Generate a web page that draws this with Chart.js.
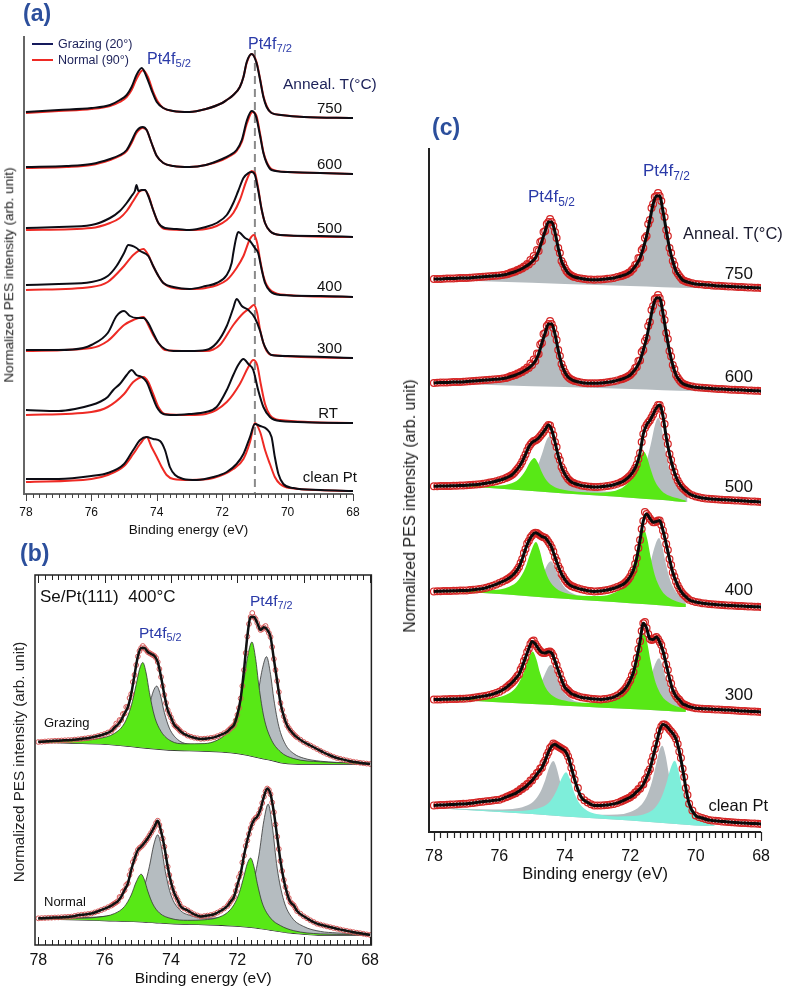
<!DOCTYPE html>
<html>
<head>
<meta charset="utf-8">
<script src="https://cdn.jsdelivr.net/npm/chart.js@4.4.1/dist/chart.umd.min.js"></script>
<style>
body { margin: 0; background: #fff; }
#fig { position: relative; width: 785px; height: 992px; overflow: hidden; font-family: 'Liberation Sans', Arial, sans-serif; }
canvas { position: absolute; }
.t { position: absolute; white-space: nowrap; line-height: 1; color: #111; }
.t sub { font-size: 70%; vertical-align: -0.3em; line-height: 0; }
.panel { font-weight: bold; color: #2c4f9c; font-size: 23px; }
.pt { color: #2a3aa8; }
.navy { color: #1c2159; }
.r { text-align: right; }
.yt { position: absolute; white-space: nowrap; line-height: 1; color: #222; transform: translate(-50%, -50%) rotate(-90deg); }
.key { position: absolute; height: 2px; }
</style>
</head>
<body>
<div id="fig">
  <canvas id="chartA" width="385" height="545" style="left:0;top:0"></canvas>
  <canvas id="chartB" width="385" height="427" style="left:0;top:565px"></canvas>
  <canvas id="chartC" width="400" height="792" style="left:385px;top:100px"></canvas>

  <!-- panel (a) -->
  <div class="t panel" style="left:23px;top:2px">(a)</div>
  <div class="key" style="left:32px;top:43px;width:21px;background:#151a5c"></div>
  <div class="key" style="left:32px;top:59px;width:21px;background:#ee2a24"></div>
  <div class="t navy" style="left:58px;top:38px;font-size:12.5px">Grazing (20°)</div>
  <div class="t navy" style="left:58px;top:54px;font-size:12.5px">Normal (90°)</div>
  <div class="t pt" style="left:147px;top:51px;font-size:16px">Pt4f<sub>5/2</sub></div>
  <div class="t pt" style="left:248px;top:36px;font-size:16px">Pt4f<sub>7/2</sub></div>
  <div class="t navy" style="left:283px;top:76px;font-size:15.5px">Anneal. T(°C)</div>
  <div class="t r" style="right:443px;top:100px;font-size:15px">750</div>
  <div class="t r" style="right:443px;top:156px;font-size:15px">600</div>
  <div class="t r" style="right:443px;top:220px;font-size:15px">500</div>
  <div class="t r" style="right:443px;top:278px;font-size:15px">400</div>
  <div class="t r" style="right:443px;top:340px;font-size:15px">300</div>
  <div class="t r" style="right:447px;top:405px;font-size:15px">RT</div>
  <div class="t r" style="right:428px;top:469px;font-size:15px">clean Pt</div>
  <div class="yt" style="left:9px;top:275px;font-size:13.6px">Normalized PES intensity (arb. unit)</div>

  <!-- panel (b) -->
  <div class="t panel" style="left:20px;top:542px">(b)</div>
  <div class="t" style="left:40px;top:588px;font-size:17px">Se/Pt(111)&nbsp;&nbsp;400°C</div>
  <div class="t pt" style="left:250px;top:593px;font-size:15.5px">Pt4f<sub>7/2</sub></div>
  <div class="t pt" style="left:139px;top:625px;font-size:15.5px">Pt4f<sub>5/2</sub></div>
  <div class="t" style="left:44px;top:716px;font-size:13px">Grazing</div>
  <div class="t" style="left:44px;top:895px;font-size:13px">Normal</div>
  <div class="yt" style="left:19px;top:762px;font-size:15.2px">Normalized PES intensity (arb. unit)</div>

  <!-- panel (c) -->
  <div class="t panel" style="left:432px;top:116px">(c)</div>
  <div class="t pt" style="left:643px;top:162px;font-size:17px">Pt4f<sub>7/2</sub></div>
  <div class="t pt" style="left:528px;top:188px;font-size:17px">Pt4f<sub>5/2</sub></div>
  <div class="t" style="left:683px;top:225px;font-size:16.5px;color:#1a1a2e">Anneal. T(°C)</div>
  <div class="t r" style="right:32px;top:265px;font-size:17px">750</div>
  <div class="t r" style="right:32px;top:368px;font-size:17px">600</div>
  <div class="t r" style="right:32px;top:478px;font-size:17px">500</div>
  <div class="t r" style="right:32px;top:581px;font-size:17px">400</div>
  <div class="t r" style="right:32px;top:686px;font-size:17px">300</div>
  <div class="t r" style="right:17px;top:797px;font-size:16.5px">clean Pt</div>
  <div class="yt" style="left:410px;top:506px;font-size:16px">Normalized PES intensity (arb. unit)</div>
</div>

<script>
Chart.defaults.font.family = "'Liberation Sans', Arial, sans-serif";
Chart.defaults.color = '#111';

// binding energy ticks (eV)
const tickE = [78, 76, 74, 72, 70, 68];

// energy grids (eV) of the measured points in (b) and (c)
const gridE = [78, 77.8, 77.6, 77.4, 77.2, 77, 76.8, 76.6, 76.4, 76.2, 76, 75.8,
  75.7, 75.6, 75.5, 75.4, 75.3, 75.2, 75.1, 75, 74.9, 74.8, 74.7, 74.6, 74.5, 74.4, 74.3, 74.2, 74.1, 74, 73.9, 73.8, 73.7,
  73.5, 73.3, 73.1, 72.9, 72.7, 72.5, 72.3,
  72.2, 72.1, 72, 71.9, 71.8, 71.7, 71.6, 71.5, 71.4, 71.3, 71.2, 71.1, 71, 70.9, 70.8, 70.7, 70.6, 70.5, 70.4, 70.3, 70.2,
  70, 69.8, 69.6, 69.4, 69.2, 69, 68.8, 68.6, 68.4, 68.2, 68];
const gridMid = [77.9, 77.7, 77.5, 77.3, 77.1, 76.9, 76.7, 76.5, 76.3, 76.1, 75.9, 75.75,
  75.65, 75.55, 75.45, 75.35, 75.25, 75.15, 75.05, 74.95, 74.85, 74.75, 74.65, 74.55, 74.45, 74.35, 74.25, 74.15, 74.05, 73.95, 73.85, 73.75, 73.6,
  73.4, 73.2, 73, 72.8, 72.6, 72.4, 72.25,
  72.15, 72.05, 71.95, 71.85, 71.75, 71.65, 71.55, 71.45, 71.35, 71.25, 71.15, 71.05, 70.95, 70.85, 70.75, 70.65, 70.55, 70.45, 70.35, 70.25, 70.1,
  69.9, 69.7, 69.5, 69.3, 69.1, 68.9, 68.7, 68.5, 68.3, 68.1];

// ---------- (a) grazing / normal emission, [eV, intensity] ----------
const tempsA = ['750', '600', '500', '400', '300', 'RT', 'clean Pt'];
const offA = [376, 320, 257, 197, 136, 71, 3];

const grazA750 = [[78,6],[77,8],[76,10],[75.43,13],[75.13,18],[74.92,23],[74.77,31],[74.62,43],[74.46,50],[74.31,41],[74.16,28],[74,16],[73.8,10],[73.5,7],[73,6],[72.5,9],[72,15],[71.86,18],[71.66,23],[71.46,31],[71.35,41],[71.25,56],[71.1,64],[70.95,55],[70.84,38],[70.74,21],[70.64,11],[70.49,5],[70.2,3],[69.5,1],[68,0]];
const normA750 = [[78,5],[77,7],[76,9],[75.43,12],[75.13,16],[74.92,21],[74.77,28],[74.62,39],[74.42,48],[74.27,41],[74.12,27],[73.96,16],[73.8,10],[73.5,7],[73,6],[72.5,9],[72,15],[71.86,18],[71.66,23],[71.46,31],[71.35,41],[71.25,55],[71.1,64],[70.95,56],[70.84,39],[70.74,22],[70.64,12],[70.49,5],[70.2,3],[69.5,1],[68,0]];
const grazA600 = [[78,7],[76.76,8],[76,10],[75.43,15],[75.13,19],[74.92,24],[74.77,33],[74.62,43],[74.43,47],[74.31,44],[74.16,31],[74,18],[73.8,11],[73.49,8],[73,7],[72.5,9],[72,15],[71.76,19],[71.56,24],[71.4,34],[71.25,53],[71.1,63],[70.97,58],[70.84,38],[70.74,21],[70.64,11],[70.49,4],[70,2],[69,1],[68,0]];
const normA600 = [[78,6],[76.76,7],[76,9],[75.43,14],[75.13,18],[74.92,23],[74.77,31],[74.62,41],[74.43,46],[74.31,44],[74.16,31],[74,18],[73.8,11],[73.49,8],[73,7],[72.5,9],[72,14],[71.76,18],[71.56,23],[71.4,32],[71.25,50],[71.07,62],[70.95,58],[70.84,40],[70.74,22],[70.64,12],[70.49,5],[70,2],[69,1],[68,0]];
const grazA500 = [[78,9],[77,10],[76,12],[75.43,19],[75.13,26],[74.92,34],[74.77,41],[74.67,46],[74.62,52],[74.56,46],[74.46,47],[74.36,47],[74.26,41],[74.11,27],[73.95,14],[73.75,9],[73.39,8],[73,7],[72.5,10],[72.17,14],[71.86,22],[71.66,34],[71.51,46],[71.35,59],[71.2,64],[71.1,65],[71,62],[70.9,47],[70.79,27],[70.69,14],[70.54,6],[70.23,2],[69,1],[68,0]];
const normA500 = [[78,7],[76,9],[75.43,14],[75.13,19],[74.92,26],[74.72,36],[74.51,46],[74.39,47],[74.26,42],[74.11,27],[73.95,14],[73.75,8],[73,7],[72.5,8],[72.17,11],[71.86,17],[71.66,24],[71.46,37],[71.25,57],[71.1,66],[71,64],[70.9,49],[70.79,27],[70.69,14],[70.54,6],[70.23,2],[68,0]];
const grazA400 = [[78,12],[77,13],[76,15],[75.5,21],[75.23,31],[75,44],[74.87,52],[74.62,49],[74.51,46],[74.26,41],[74.11,31],[73.95,21],[73.8,14],[73.49,10],[73,8],[72.5,11],[72.17,14],[71.86,22],[71.71,34],[71.66,44],[71.58,58],[71.51,65],[71.3,59],[71.15,56],[71,49],[70.9,44],[70.79,27],[70.69,14],[70.54,6],[70.23,2],[69,1],[68,0]];
const normA400 = [[78,7],[76,10],[75.5,15],[75,31],[74.72,42],[74.41,48],[74.26,42],[74.11,31],[73.95,21],[73.8,14],[73.49,9],[73,8],[72.5,9],[71.86,17],[71.56,29],[71.35,41],[71.15,58],[71.03,62],[70.93,54],[70.84,37],[70.74,21],[70.64,12],[70.49,6],[70.03,2],[68,0]];
const grazA300 = [[78,8],[77,8],[76.25,10],[76,13],[75.5,25],[75.23,42],[75,47],[74.82,42],[74.62,40],[74.41,40],[74.26,35],[74.11,25],[73.95,15],[73.75,9],[73.49,7],[73,7],[72.5,8],[72.17,15],[71.86,32],[71.66,50],[71.56,59],[71.4,52],[71.2,48],[71,40],[70.84,27],[70.74,15],[70.64,8],[70.49,3],[70,2],[68,0]];
const normA300 = [[78,7],[76,10],[75.5,17],[75,33],[74.72,38],[74.41,41],[74.26,33],[74.11,23],[73.95,15],[73.75,8],[73,7],[72.5,7],[72.07,13],[71.66,33],[71.35,45],[71.15,50],[71.03,53],[70.93,45],[70.84,28],[70.74,15],[70.64,7],[70.49,3],[68,0]];
const grazART = [[78,13],[77,12],[76.5,14],[76,18],[75.75,21],[75.5,26],[75.33,33],[75.13,39],[74.92,48],[74.77,53],[74.62,48],[74.46,46],[74.31,41],[74.16,29],[74,16],[73.8,9],[73.49,8],[73,9],[72.5,11],[72.17,16],[71.86,33],[71.66,48],[71.51,58],[71.35,64],[71.2,59],[71.05,53],[70.9,33],[70.74,16],[70.54,6],[70.23,2],[68,0]];
const normART = [[78,8],[76,11],[75.5,16],[75,29],[74.72,41],[74.41,46],[74.26,41],[74.11,29],[73.95,16],[73.75,9],[73,8],[72.5,9],[71.86,21],[71.46,39],[71.2,56],[71.05,63],[70.93,58],[70.82,39],[70.69,19],[70.54,8],[70.23,3],[68,0]];
const grazAclean = [[78,12],[77,12],[76,15],[75.5,18],[75,27],[74.72,41],[74.51,51],[74.31,54],[74.11,52],[73.9,50],[73.75,41],[73.6,24],[73.44,16],[73.19,12],[72.78,11],[72.27,14],[71.86,19],[71.56,27],[71.35,37],[71.15,54],[71,67],[70.84,65],[70.64,62],[70.49,54],[70.39,34],[70.28,17],[70.13,7],[69.82,3],[69,1],[68,0]];
const normAclean = [[78,9],[76,12],[75.5,16],[75,25],[74.72,37],[74.51,47],[74.31,54],[74.16,44],[74,34],[73.85,24],[73.7,16],[73.49,12],[73,11],[72.27,13],[71.66,22],[71.35,32],[71.15,49],[71,68],[70.84,59],[70.69,41],[70.54,27],[70.39,14],[70.23,7],[69.93,3],[68,0]];

// ---------- (b) Se/Pt(111) 400°C ----------
const offB = [181, 10]; // grazing, normal
const dataBGraz = [22,22.5,23,23.3,23.7,24,24.7,25.5,26.5,28,30,33,
  36.5,39.5,44,50.6,57,70,89,107.5,116,116,112,110,108,102,87,69,54,46.5,39,35.8,32.3,
  28.4,26.3,25.1,25.6,26.6,29.1,32.6,
  35.8,39,49,65.5,94,127.5,147,147,141,134,136.7,134.3,127,105,83,61,47.7,38.5,33.5,29.7,26.6,
  22,18.5,15,11.5,8.5,6,4.4,2.8,1.7,0.8,0];
const dataBNorm = [16.7,17,17.3,17.6,18,18.4,19.8,20.6,21.5,23.7,26.3,29.4,
  31.6,33.9,38.3,45,51.7,65,76.1,85,88.3,92.2,96.7,102.2,108.1,114.3,103.6,88.3,68.3,52.8,41.7,35,28.3,
  24.7,20.7,18.5,19.4,20.8,24.2,29,
  33.7,38.3,50,61.7,79.4,94.5,107,115,118.3,126,138.3,146.5,140.8,122.8,98.3,74,55,41.7,32.8,29.7,23.9,
  18.7,14.7,11.3,9.5,7.8,6.3,4.7,3.5,2.3,1.2,0];
const midBGraz = [22.2,22.8,23.2,23.5,23.9,24.4,25.1,26,27.2,29,31.5,35,
  40.5,44,50,57,66,82,99,113,118,114,111,109,106,95,78,61,50,42.5,37.3,34,30.5,
  27.3,25.7,25.3,26.1,27.8,30.8,34.2,
  37.3,43.5,56,78,111,140,151,145,137,135,138,131,117,94,72,54,43,36,31.5,28,24.3,
  20.2,16.7,13.2,10,7.2,5.2,3.6,2.2,1.2,0.4];
const midBNorm = [16.9,17.2,17.5,17.8,18.2,19.1,20.2,21,22.6,25,27.8,30.5,
  32.7,38,43.5,50,60,73,81,87,90,94.5,99.5,105,112,110,96.5,78.5,60,47,38,31.5,26.5,
  22.6,19.5,18.9,20,22.4,26.5,31.3,
  36,44,58,72.5,89,101,111.5,117,121.5,132,143.5,145,132.5,110.5,86,64,48,37,31.2,26.8,21.3,
  16.7,13,10.4,8.6,7,5.5,4.1,2.9,1.8,0.6];
const bgBGraz = [[78,22],[77,21],[76,20],[75.3,18],[74.9,16.5],[74.4,15],[74,14],[73,13],[72.2,11.5],[71.7,9],[71.3,6],[71,4],[70.6,1],[70,0],[68,0]];
const bgBNorm = [[78,16],[77,15.5],[76,14.5],[75,13.5],[74.5,12.5],[74,11.5],[73,10.5],[72,9],[71.5,7.5],[71,5],[70.5,2.5],[70,1],[69.5,0],[68,0]];
const greenBGraz = [[78,23],[77,23.3],[76.2,25.4],[75.7,30.7],[75.4,41],[75.2,58],[75.05,79.4],[74.95,94.7],[74.85,101.5],[74.75,91],[74.65,71.3],[74.5,48],[74.3,32.6],[74,23],[73.6,20.2],[73,20.4],[72.6,23.9],[72.3,31.7],[72.1,42.9],[71.95,58.5],[71.8,84.5],[71.7,105.6],[71.56,122],[71.45,105.4],[71.35,77.9],[71.2,46.8],[71,26],[70.7,12.2],[70.3,5.4],[69.5,2.2],[68.5,1],[68,0.7]];
const grayBGraz = [[78,22.8],[77,22.3],[76,23],[75.3,26.2],[75,33],[74.8,44.4],[74.65,59.4],[74.53,73.1],[74.43,77.9],[74.33,70.3],[74.2,51.4],[74.05,35.9],[73.8,24.5],[73.4,19.4],[72.8,18.2],[72.3,20.3],[72,24.3],[71.8,29.9],[71.6,41.6],[71.4,66.8],[71.25,94.6],[71.12,107.3],[71,89.7],[70.9,64.7],[70.75,37.6],[70.55,19.6],[70.3,10.4],[70,5.8],[69.5,2.8],[69,1.6],[68,0.7]];
const greenBNorm = [[78,16.7],[77,16.7],[76.2,17.8],[75.7,21.5],[75.4,28.6],[75.2,40],[75.05,53],[74.9,60.8],[74.8,55],[74.7,43.9],[74.55,31.1],[74.35,22.1],[74,16.5],[73.5,14.7],[73,15.2],[72.6,17.3],[72.3,22.5],[72.1,30.4],[71.95,41.4],[71.8,58.9],[71.7,71.4],[71.6,76.9],[71.5,68.4],[71.4,51.7],[71.25,32],[71,16.9],[70.7,9.4],[70.3,4.3],[69.5,1.1],[68.5,0.5],[68,0.4]];
const grayBNorm = [[78,17],[77,17.3],[76,18.7],[75.3,24.8],[75,34.4],[74.8,49.1],[74.65,68.8],[74.52,90.2],[74.4,100.2],[74.3,89.6],[74.17,63.3],[74,39.9],[73.75,25.6],[73.4,19.3],[72.9,16.9],[72.4,18.3],[72,24],[71.75,32.9],[71.55,48.3],[71.35,79.9],[71.2,114.5],[71.07,130.9],[70.95,109.6],[70.8,66.9],[70.6,34.4],[70.35,17.2],[70,8.5],[69.5,3.6],[69,2.1],[68,0.9]];

// ---------- (c) anneal series ----------
const offC = [544, 441, 330, 225, 120, 8]; // 750, 600, 500, 400, 300, clean Pt
const dataC750 = [9,9,9.5,9.5,10,10,10.5,11,11.5,12,12.5,13.5,
  14.5,15.5,16.5,18,19.5,21.5,23.5,26.5,30,37,47,57,66,66,56,40,27,20,15,12.5,11,
  9.5,8.5,8.3,8.5,9.2,10,11.8,
  12.8,14,16,19.5,24,30,40,52,68,84,92,92,77,58,40,27,17,12,8,6.5,5.5,
  4,3.4,2.9,2.3,2,1.6,1.2,0.9,0.6,0.3,0];
const dataC600 = [8,8.5,8.5,9,9,9.5,10,10.5,11,11.5,12,13,
  14,15,16,17.5,19,21,23,26,30,37,48,58,67,67,57,41,27,19,14,11.5,10,
  8.5,7.8,7.7,8,8.7,9.7,11.5,
  12.5,14,16,19.5,24,30.5,41,53,69,85,93,93,78,58,40,26,16,11,7.5,6,5,
  3.8,3.2,2.7,2.2,1.9,1.5,1.2,0.9,0.6,0.3,0];
const dataC500 = [15.7,15.9,16,16.2,16.4,16.7,17.2,17.8,18.8,20,21.7,24,
  25.5,27.5,31,35,40.5,47.5,55,59.5,61.5,64,68,72.5,77,72,60,46,35,28,23,20,18.5,
  16.5,15.5,15,15.3,16,17.3,19.5,
  21,23.5,26.5,31,37.5,49,68,77,81.5,87.5,94,97,86,65,48,35,25,18.5,14,11,8.3,
  5.5,4,3.2,2.7,2.3,2,1.6,1.2,0.8,0.4,0];
const dataC400 = [15.6,15.8,16,16.2,16.4,16.6,17.2,18,19.3,21.3,24,27,
  29,31.5,35,40,48,58,66,71.5,74.3,72.7,70.4,69.3,65,59.5,50,41,33,27.7,23.5,21,19.8,
  17.7,16.3,15.6,16,17,18.7,21.3,
  23,26,30.5,37,49,67,86,93,88.6,84.8,85.5,86.4,76.6,63,48,34.6,25.6,18.5,13.5,10.3,7.2,
  5,3.8,3,2.4,2,1.6,1.2,0.9,0.6,0.3,0];
const dataC300 = [12.4,12.6,12.8,13,13.2,13.4,14.3,15.3,16.3,17.9,20.3,24.2,
  27,29.7,33.6,37.6,45.5,54.4,63.2,70.5,68,63,59.5,59,60.3,59,51,41.4,32.5,24.7,21.4,18.3,17,
  14.8,13.7,12.9,12.5,13.3,14.9,18.6,
  21.6,25.8,31.7,40,54,70.7,88.8,84,73,72.5,75,70,61,47.6,33.7,22,15.7,12.2,8.2,6.8,5.3,
  3.8,3.3,3,2.6,2.2,1.9,1.5,1.1,0.7,0.4,0];
const dataCclean = [18.6,18.9,19.3,19.6,20,20.3,21.1,21.9,22.7,23.5,24.3,26.8,
  28.1,29.4,30.7,32.8,35,37.2,40.3,43.6,47.7,52,56.3,63.4,71.8,77.8,79.4,77.5,75.5,73.4,67.6,56.3,44.3,
  27,21.5,18.6,18.6,19,20.1,22.2,
  23.7,25.2,26.7,29,32.3,35.3,39.6,46.3,54.8,67.5,80.3,93.6,99.5,98.2,94.3,90.6,85,72.6,55.3,36,20.2,
  8.5,6,4,3.2,2.6,2,1.5,1.1,0.7,0.4,0];

// in-between measured points (on gridMid)
const midC750 = [9,9.3,9.5,9.8,10,10.3,10.8,11.3,11.8,12.3,13,14,
  15.5,16.5,18,19.5,21.5,24,28,32,38,46,56,64,69,62,50,35,24,17,13.5,11.5,10,
  9,8.4,8.4,8.8,9.6,10.9,12.3,
  13.5,15.2,18,23,30,38,50,64,80,91,95,87,71,52,35,23,14.5,10,7.2,6,4.7,
  3.7,3.1,2.6,2.2,1.8,1.4,1,0.7,0.4,0.2];
const midC600 = [8.3,8.5,8.8,9,9.3,9.8,10.3,10.8,11.3,11.8,12.5,13.5,
  15,16,17.5,19,21,23.5,27.5,31.5,37.5,46.5,57,65,70,63,51,35,23,16,12.5,10.7,9.2,
  8.1,7.7,7.8,8.3,9.2,10.6,12,
  13.2,15,17.8,23,30,39,50,65,81,92,96,88,71,52,34.5,22,13.5,9,6.7,5.5,4.4,
  3.5,3,2.5,2,1.7,1.3,1,0.7,0.4,0.2];
const midC500 = [15.8,16,16.1,16.3,16.5,16.9,17.5,18.3,19.4,20.8,22.8,24.8,
  26.5,29,33,37.5,44,51.5,57.5,61,62.5,66,70,75,76.5,67,55,42,32,25.5,21.5,19.2,17.5,
  16,15.2,15.1,15.6,16.6,18.3,20.2,
  22.2,25,28.5,34,43,60,74,79.5,84.5,91,97,93,78,58,42,30,21.5,16,12.5,9.6,6.8,
  4.7,3.6,2.9,2.5,2.1,1.8,1.4,1,0.6,0.2];
const midC400 = [15.7,15.9,16.1,16.3,16.5,16.9,17.6,18.6,20.3,22.6,25.5,28,
  30.2,33.2,37.5,44,54,63.5,69.5,73.5,74,71.5,69.8,67.5,62.5,55.5,46.5,38,30.5,25.5,22.2,20.4,18.7,
  17,15.9,15.7,16.5,17.8,20,22.1,
  24.4,28,34,43,59,78,95,91,86.5,84.8,86.5,82,71,57,42,30.5,21.8,15.8,11.8,8.7,6,
  4.4,3.4,2.7,2.2,1.8,1.4,1,0.7,0.4,0.2];
const midC300 = [12.5,12.7,12.9,13.1,13.3,13.8,14.8,15.8,17.1,19.1,22.2,25.6,
  28.3,31.6,36,42.5,51,60,68,71.5,65.5,61,59,59.8,60.5,56,47,38,29,23,19.8,17.6,15.8,
  14.2,13.3,12.7,12.9,14,16.5,20,
  23.5,29,36.5,48,63,81,90,78,72,74,73,67,56,42,28.5,18.5,13.8,10,7.5,6,4.5,
  3.5,3.1,2.8,2.4,2,1.7,1.3,0.9,0.5,0.2];
const midCclean = [18.8,19.1,19.5,19.8,20.2,20.7,21.5,22.3,23.1,23.9,25.5,27.5,
  29,30.5,32.5,35,37.5,40,43.5,47,51,55.5,61,68.5,76,80.5,78.5,76.5,74.5,71,63,51,36,
  23.8,19.8,18.5,18.8,19.5,21.1,22.9,
  24.4,25.9,28.5,31.5,35,39,44.5,52,62.5,75,88,97.5,99.5,96.4,92.5,88,80,66,47,29,13.5,
  7.1,4.9,3.6,2.9,2.3,1.8,1.3,0.9,0.5,0.2];

const bgC750 = [[78,8.3],[76,6.2],[74,4.1],[72,2],[70,0],[68,0]];
const bgC600 = [[78,7.7],[76,5.8],[74,3.9],[72,1.9],[70,0],[68,0]];
const bgC500 = [[78,16],[77,15.5],[76.5,14.5],[75,11],[74,8.5],[73,6.5],[72,4.3],[71,1.9],[70.3,0],[68,0]];
const bgC400 = [[78,15],[77,14.6],[76.5,14],[75,10.6],[74,8.3],[73,6],[72,3.8],[71,1.6],[70.3,0],[68,0]];
const bgC300 = [[78,12],[77,11.4],[76.2,10],[75,8],[74,6.3],[73,4.6],[72,2.9],[71,1.2],[70.3,0],[68,0]];
const bgCclean = [[78,16],[77,14],[76,12],[75,10],[74,7.5],[73,5.5],[72,3.5],[71,1],[70,-1.5],[69.4,-2],[68,-2]];

const grayC500 = [[78,16.7],[77,16.4],[76.2,16],[75.7,16.7],[75.3,19.5],[75.05,25.1],[74.85,34.8],[74.7,47.7],[74.58,60.1],[74.47,65.4],[74.37,58.4],[74.25,43],[74.1,29],[73.85,18.1],[73.5,13.2],[73,11],[72.6,10.5],[72.2,12.5],[71.9,17.3],[71.7,24.9],[71.5,40.8],[71.35,61],[71.24,77.6],[71.14,84.3],[71.04,74.1],[70.94,54.5],[70.8,32.8],[70.6,17.1],[70.4,9],[70.25,5]];
const greenC500 = [[78,16.5],[77,16.2],[76.2,16],[75.7,17.9],[75.4,23.1],[75.2,31.5],[75.05,40.4],[74.93,44.1],[74.82,39.2],[74.7,29.7],[74.55,21.2],[74.3,14.8],[74,12],[73.5,10],[73,9.3],[72.6,10.2],[72.3,13.2],[72.1,18],[71.95,25],[71.82,34.6],[71.7,45],[71.58,50.2],[71.48,44.3],[71.38,33.2],[71.25,21.3],[71.05,11.6],[70.8,6.2],[70.5,3.3],[70.3,1.5]];
const grayC400 = [[78,15.4],[77,15.4],[76.2,15],[75.6,14.9],[75.2,17.2],[74.95,21],[74.75,28.4],[74.6,37.8],[74.5,43.9],[74.42,45.7],[74.32,41.1],[74.2,30.9],[74.05,21.6],[73.8,14.3],[73.4,10.7],[72.9,9.1],[72.4,9.5],[72,12.4],[71.75,18.1],[71.55,27.9],[71.4,41.7],[71.25,60.4],[71.12,69.1],[71.02,60.5],[70.92,44.7],[70.78,26.9],[70.6,14.9],[70.3,6.6]];
const greenC400 = [[78,15.8],[77,16.2],[76.2,17],[75.7,20.3],[75.4,27.6],[75.2,39.5],[75.05,54],[74.88,64.9],[74.77,57.1],[74.65,41.8],[74.5,28.3],[74.25,18.2],[74,14.2],[73.5,11.2],[73,10.9],[72.6,12.8],[72.3,17.9],[72.1,25.6],[71.95,36.9],[71.82,52.2],[71.7,68.7],[71.58,77.2],[71.48,68],[71.38,50.6],[71.25,32.1],[71.05,17.1],[70.8,9],[70.5,4.8],[70.3,3]];
const grayC300 = [[78,12.5],[77,12.3],[76.2,11.8],[75.6,12.1],[75.2,15.1],[74.95,19.4],[74.75,27.9],[74.6,38.4],[74.5,45.2],[74.42,47.3],[74.32,42.3],[74.2,31],[74.05,20.8],[73.8,12.8],[73.4,9],[72.9,7.2],[72.4,7.4],[72,9.7],[71.75,14],[71.55,21.7],[71.4,32.4],[71.25,46.9],[71.12,53.7],[71.02,46.9],[70.92,34.6],[70.78,20.9],[70.6,11.5],[70.3,5.1]];
const greenC300 = [[78,12.8],[77,13.1],[76.2,13.9],[75.7,18.7],[75.45,26.5],[75.25,40.1],[75.1,54.5],[74.98,60.5],[74.87,53.1],[74.75,38.4],[74.6,25.3],[74.35,15.7],[74,11.4],[73.5,9.2],[73,9.5],[72.6,11.6],[72.3,17.1],[72.1,25.3],[71.95,36.9],[71.82,52.7],[71.7,69.6],[71.58,78.5],[71.48,69.1],[71.38,51.3],[71.25,32.3],[71.05,17],[70.8,9],[70.5,4.8],[70.3,3]];
const grayCclean = [[78,16.5],[77,15.1],[76.2,14.6],[75.6,15.1],[75.2,17.9],[74.95,22.8],[74.75,31.7],[74.6,43.8],[74.47,56.9],[74.35,62.9],[74.25,56.1],[74.12,39.6],[73.97,26.1],[73.75,16.7],[73.4,11.7],[72.9,9.2],[72.4,9.4],[72,12],[71.7,17.9],[71.5,27.3],[71.33,43],[71.2,61.1],[71.1,74.3],[71.02,78.3],[70.92,68.5],[70.8,46.7],[70.65,27.1],[70.4,11.8],[70.1,4.9],[69.8,1.9],[69.6,0.7]];
const cyanCclean = [[78,16.4],[77,14.6],[76.2,13.5],[75.5,13.1],[75,14.3],[74.7,16.9],[74.45,22.6],[74.25,33.5],[74.1,45.5],[73.96,51.8],[73.85,45.4],[73.72,32],[73.55,20.4],[73.3,13.1],[72.9,9.2],[72.4,7.5],[71.9,7.9],[71.5,10.8],[71.25,16.1],[71.05,26.2],[70.9,40],[70.76,56.2],[70.64,63.3],[70.54,55.2],[70.42,37.3],[70.27,21.1],[70.05,9.5],[69.8,4.2],[69.6,2],[69.4,-2]];

const GRAY = 'rgb(181,188,192)';
const GREEN = 'rgb(88,232,22)';
const CYAN = 'rgb(126,238,218)';

function pts(pairs, off) { return pairs.map(p => ({ x: p[0], y: p[1] + off })); }
function onGrid(grid, vals, off) { return grid.map((e, i) => ({ x: e, y: vals[i] + off })); }
function line(data, color, width, order) {
  return { data, borderColor: color, borderWidth: width, pointRadius: 0, fill: false,
           cubicInterpolationMode: 'monotone', order };
}
function area(data, color, target, order, edge) {
  return { data, borderColor: edge || 'rgba(0,0,0,0)', borderWidth: edge ? 0.8 : 0, backgroundColor: color,
           pointRadius: 0, fill: target, cubicInterpolationMode: 'monotone', order };
}
function circles(data, r, color, w) {
  return { data, showLine: false, fill: false, pointRadius: r, pointBorderWidth: w,
           pointBorderColor: color, pointBackgroundColor: 'rgba(255,255,255,0)', order: 12 };
}

// axis lines, minor ticks and the dashed guide
const frame = {
  id: 'frame',
  beforeDatasetsDraw(chart, args, o) {
    if (o.dashAt === undefined) return;
    const { ctx, chartArea: a, scales: { x } } = chart;
    const px = x.getPixelForValue(o.dashAt);
    ctx.save();
    ctx.strokeStyle = '#8a8a8a'; ctx.lineWidth = 2; ctx.setLineDash([8, 5]);
    ctx.beginPath(); ctx.moveTo(px, o.dashTop); ctx.lineTo(px, a.bottom); ctx.stroke();
    ctx.restore();
  },
  afterDraw(chart, args, o) {
    const { ctx, chartArea: a, scales: { x } } = chart;
    ctx.save();
    ctx.strokeStyle = o.color; ctx.lineWidth = o.width;
    ctx.beginPath();
    if (o.box) {
      ctx.rect(a.left, a.top, a.right - a.left, a.bottom - a.top);
    } else {
      ctx.moveTo(a.left, a.top); ctx.lineTo(a.left, a.bottom); ctx.lineTo(a.right, a.bottom);
    }
    ctx.stroke();
    ctx.strokeStyle = o.tickColor; ctx.lineWidth = o.tickWidth;
    ctx.beginPath();
    for (let i = 0; i <= 50; i++) {
      const px = Math.round(x.getPixelForValue(68 + i * 0.2)) + 0.5;
      const len = i % 10 === 0 ? o.major : o.minor;
      if (o.box) {
        ctx.moveTo(px, a.bottom); ctx.lineTo(px, a.bottom - len);
        ctx.moveTo(px, a.top); ctx.lineTo(px, a.top + len);
      } else {
        ctx.moveTo(px, a.bottom); ctx.lineTo(px, a.bottom + len);
      }
    }
    ctx.stroke();
    ctx.restore();
  }
};

function makeChart(id, datasets, cfg) {
  return new Chart(document.getElementById(id), {
    type: 'line',
    data: { datasets },
    options: {
      responsive: false, animation: false, events: [], devicePixelRatio: 1,
      layout: { padding: cfg.padding },
      plugins: { legend: { display: false }, tooltip: { enabled: false }, frame: cfg.frame },
      scales: {
        x: {
          type: 'linear', reverse: true, min: cfg.xmin, max: cfg.xmax,
          grid: { display: false, drawTicks: false }, border: { display: false },
          ticks: { font: { size: cfg.tickSize }, color: '#111', padding: cfg.tickPad, autoSkip: false, maxRotation: 0 },
          afterBuildTicks: s => { s.ticks = tickE.map(v => ({ value: v })); },
          afterFit: s => { s.height = cfg.xHeight; },
          title: { display: true, text: 'Binding energy (eV)', color: '#111',
                   font: { size: cfg.titleSize }, padding: { top: 0, bottom: cfg.titlePad } }
        },
        y: { display: false, min: 0, max: cfg.ymax }
      }
    },
    plugins: [frame]
  });
}

// ----- build (a)
const grazA = [grazA750, grazA600, grazA500, grazA400, grazA300, grazART, grazAclean];
const normA = [normA750, normA600, normA500, normA400, normA300, normART, normAclean];
const dsA = [];
offA.forEach((off, i) => {
  dsA.push(line(pts(normA[i], off), '#ee2a24', 2, 2));
  dsA.push(line(pts(grazA[i], off), '#0c0c14', 2, 1));
});
makeChart('chartA', dsA, {
  padding: { left: 24, top: 36, right: 32, bottom: 0 }, xmin: 68, xmax: 78.06, ymax: 458,
  xHeight: 51, tickSize: 12, tickPad: 11, titleSize: 13.5, titlePad: 7,
  frame: { box: false, color: '#666', width: 2, tickColor: '#444', tickWidth: 1, major: 7, minor: 4, dashAt: 71.0, dashTop: 50 }
});

// ----- build (b)
const dataB = [dataBGraz, dataBNorm];
const midB = [midBGraz, midBNorm];
const bgB = [bgBGraz, bgBNorm];
const grayB = [grayBGraz, grayBNorm];
const greenB = [greenBGraz, greenBNorm];
const dsB = [];
offB.forEach((off, i) => {
  const k = dsB.length;
  dsB.push(line(pts(bgB[i], off), '#222', 1.4, 40));
  dsB.push(area(pts(grayB[i], off), GRAY, k, 35, '#333'));
  dsB.push(area(pts(greenB[i], off), GREEN, k, 30, '#333'));
  dsB.push(circles(onGrid(gridE, dataB[i], off), 2.4, '#d65a5a', 1));
  dsB.push(circles(onGrid(gridMid, midB[i], off), 2.4, '#d65a5a', 1));
  dsB.push(line(onGrid(gridE, dataB[i], off), '#111', 2.5, 10));
});
makeChart('chartB', dsB, {
  padding: { left: 35, top: 10, right: 12, bottom: 0 }, xmin: 67.96, xmax: 78.1, ymax: 370,
  xHeight: 47, tickSize: 16, tickPad: 6, titleSize: 15.5, titlePad: 4,
  frame: { box: true, color: '#222', width: 1.5, tickColor: '#222', tickWidth: 1, major: 8, minor: 5 }
});

// ----- build (c)
const dataC = [dataC750, dataC600, dataC500, dataC400, dataC300, dataCclean];
const midC = [midC750, midC600, midC500, midC400, midC300, midCclean];
const bgC = [bgC750, bgC600, bgC500, bgC400, bgC300, bgCclean];
const grayC = [null, null, grayC500, grayC400, grayC300, grayCclean];
const topC = [null, null, greenC500, greenC400, greenC300, cyanCclean];
const topColor = [null, null, GREEN, GREEN, GREEN, CYAN];
const dsC = [];
offC.forEach((off, i) => {
  const k = dsC.length;
  dsC.push(line(pts(bgC[i], off), 'rgba(0,0,0,0)', 0, 50));
  dsC.push(area(grayC[i] ? pts(grayC[i], off) : onGrid(gridE, dataC[i], off), GRAY, k, 40));
  if (topC[i]) dsC.push(area(pts(topC[i], off), topColor[i], k, 30));
  dsC.push(circles(onGrid(gridE, dataC[i], off), 3.4, '#d42424', 1.2));
  dsC.push(circles(onGrid(gridMid, midC[i], off), 3.4, '#d42424', 1.2));
  dsC.push(line(onGrid(gridE, dataC[i], off), '#0a0a0a', 3, 10));
});
makeChart('chartC', dsC, {
  padding: { left: 44, top: 48, right: 22.3, bottom: 0 }, xmin: 68, xmax: 78.15, ymax: 684,
  xHeight: 60, tickSize: 16, tickPad: 15, titleSize: 16.5, titlePad: 8,
  frame: { box: false, color: '#222', width: 2, tickColor: '#222', tickWidth: 1.2, major: 9, minor: 6 }
});
</script>
</body>
</html>
